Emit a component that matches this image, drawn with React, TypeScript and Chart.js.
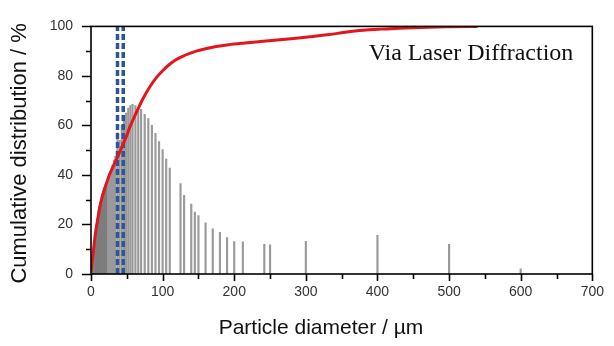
import React, { useEffect, useRef } from "react";
import { Chart, registerables } from "chart.js";

Chart.register(...registerables);

// Frequency bars (particle diameter / µm, height)
const barX = [1, 2, 3, 4, 5, 6, 7, 8, 9, 10, 11, 12, 13, 14, 15, 16, 17, 18, 19, 20, 21, 22, 24, 26, 28, 30, 32, 34, 37, 40, 43, 46, 49, 52, 55, 58, 62, 66, 70, 75, 80, 85, 90, 95, 100, 105, 110, 125, 130, 140, 145, 150, 160, 170, 180, 190, 200, 212, 242, 250, 300, 400, 500, 600];
const barY = [3, 6, 9, 11, 13, 15.5, 18, 20, 22.5, 24.5, 26, 27.5, 29, 30.5, 31.5, 32.5, 33.5, 34.5, 35, 36, 36.5, 37, 38.5, 40, 42, 44, 46, 47.5, 57, 54, 60, 63, 65, 67, 68, 68.5, 68, 67, 66.5, 64.5, 62.8, 60, 56.8, 53.5, 50.3, 46.4, 42.8, 36.5, 31.8, 28.2, 25, 23.6, 20.7, 18.2, 16.8, 14.7, 13.1, 13, 12, 11.8, 13.2, 15.6, 12, 2.1];

// Cumulative distribution curve
const curveX = [0, 3, 6, 9, 13, 17, 22, 26, 31, 35, 39, 45, 50, 54, 59, 65, 72, 82, 91, 100, 109, 118, 127, 137, 148, 160, 175, 192, 215, 237, 260, 283, 306, 330, 355, 380, 405, 430, 471, 500, 540];
const curveY = [1, 8.5, 16, 21.5, 28, 32.5, 37, 40.3, 43.5, 46, 48.5, 52.6, 56, 59.2, 62.5, 66.3, 70.5, 75.5, 79.2, 82.1, 84.5, 86.4, 87.8, 89.0, 90.1, 91.0, 91.9, 92.6, 93.3, 93.9, 94.5, 95.1, 95.8, 96.6, 97.6, 98.4, 98.9, 99.3, 99.7, 99.85, 100];

// Vertical dashed marker lines (µm)
const markerX = [37, 45];

// Axis ticks
const xMajorTicks = [0, 100, 200, 300, 400, 500, 600, 700];
const xMinorTicks = [50, 150, 250, 350, 450, 550, 650];
const yMajorTicks = [0, 20, 40, 60, 80, 100];
const yMinorTicks = [10, 30, 50, 70, 90];

const xTitle = "Particle diameter / µm";
const yTitle = "Cumulative distribution / %";
const annotationText = "Via Laser Diffraction";

const SANS = '"Liberation Sans", Arial, sans-serif';

const framePlugin = {
  id: "frameTicks",
  afterDraw(chart: any) {
    const { ctx, chartArea: a, scales } = chart;
    ctx.save();
    ctx.strokeStyle = "#000";
    ctx.lineWidth = 1.6;
    ctx.strokeRect(a.left, a.top, a.right - a.left, a.bottom - a.top);
    ctx.beginPath();
    xMajorTicks.forEach((v) => {
      const p = Math.round(scales.x.getPixelForValue(v)) + 0.5;
      ctx.moveTo(p, a.bottom);
      ctx.lineTo(p, a.bottom + 7);
    });
    xMinorTicks.forEach((v) => {
      const p = Math.round(scales.x.getPixelForValue(v)) + 0.5;
      ctx.moveTo(p, a.bottom);
      ctx.lineTo(p, a.bottom + 5);
    });
    yMajorTicks.forEach((v) => {
      const p = Math.round(scales.y.getPixelForValue(v)) + 0.5;
      ctx.moveTo(a.left, p);
      ctx.lineTo(a.left - 9, p);
    });
    yMinorTicks.forEach((v) => {
      const p = Math.round(scales.y.getPixelForValue(v)) + 0.5;
      ctx.moveTo(a.left, p);
      ctx.lineTo(a.left - 5, p);
    });
    ctx.stroke();

    ctx.fillStyle = "#111";
    ctx.font = '24px "Liberation Serif", "Times New Roman", serif';
    ctx.textAlign = "right";
    ctx.textBaseline = "alphabetic";
    ctx.fillText(annotationText, a.right - 19, a.top + 34);

    // axis titles
    ctx.font = `21px ${SANS}`;
    ctx.textAlign = "center";
    ctx.textBaseline = "middle";
    ctx.fillText(xTitle, a.left + 230, a.bottom + 54);

    ctx.font = `22px ${SANS}`;
    ctx.translate(19.5, a.top + 127);
    ctx.rotate(-Math.PI / 2);
    ctx.fillText(yTitle, 0, 0);
    ctx.restore();
  },
};

export default function App() {
  const ref = useRef<HTMLCanvasElement | null>(null);

  useEffect(() => {
    if (!ref.current) return;
    const bars = barX.map((x, i) => ({ x, y: barY[i] }));
    const curve = curveX.map((x, i) => ({ x, y: curveY[i] }));
    const markers = markerX.map((x) => ({
      type: "line" as const,
      data: [
        { x, y: 0 },
        { x, y: 100 },
      ],
      borderColor: "#2f5597",
      borderWidth: 3.5,
      borderDash: [6, 3],
      pointRadius: 0,
      order: 1,
    }));

    const chart = new Chart(ref.current, {
      type: "bar",
      data: {
        datasets: [
          {
            type: "line",
            data: curve,
            borderColor: "#e3161e",
            borderWidth: 3,
            pointRadius: 0,
            cubicInterpolationMode: "monotone",
            order: 0,
          } as any,
          ...markers,
          {
            type: "bar",
            data: bars,
            backgroundColor: (c: any) => (c.raw && c.raw.x <= 22 ? "#7d7d7d" : "#9a9a9a"),
            barThickness: 1.5,
            borderWidth: 0,
            order: 2,
          } as any,
        ],
      },
      options: {
        animation: false,
        responsive: false,
        layout: { padding: { left: 0, top: 19, right: 13, bottom: 0 } },
        plugins: { legend: { display: false }, tooltip: { enabled: false } },
        scales: {
          x: {
            type: "linear",
            min: 0,
            max: 700,
            offset: false,
            grid: { display: false, drawTicks: false },
            border: { display: false },
            ticks: {
              stepSize: 100,
              padding: 10,
              color: "#333",
              font: { family: SANS, size: 14 },
              maxRotation: 0,
            },
            afterFit: (s: any) => {
              s.height = 72;
            },
          },
          y: {
            type: "linear",
            min: 0,
            max: 100,
            grid: { display: false, drawTicks: false },
            border: { display: false },
            ticks: {
              stepSize: 20,
              padding: 18,
              color: "#333",
              font: { family: SANS, size: 14 },
            },
            afterFit: (s: any) => {
              s.width = 91;
            },
          },
        },
      },
      plugins: [framePlugin],
    });
    return () => chart.destroy();
  }, []);

  return (
    <div style={{ position: "absolute", left: 0, top: 0, width: 614, height: 346, background: "#fff" }}>
      <canvas ref={ref} width={614} height={346} />
    </div>
  );
}
